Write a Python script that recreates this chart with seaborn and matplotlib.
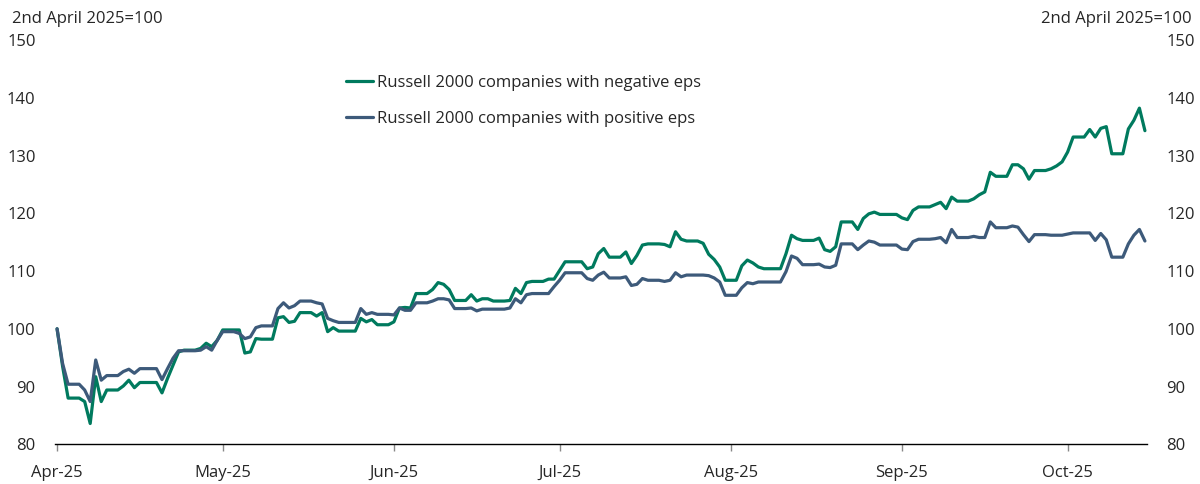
import matplotlib
matplotlib.use("Agg")
import matplotlib.pyplot as plt
import seaborn as sns
import numpy as np
import pandas as pd

# index level, 2nd April 2025 = 100, one value per trading day
start_date = "2025-04-02"
end_date = "2025-10-16"
market_holidays = ["2025-04-18", "2025-05-26", "2025-06-19", "2025-07-04", "2025-09-01"]

neg_label = "Russell 2000 companies with negative eps"
pos_label = "Russell 2000 companies with positive eps"

neg_eps = [
    # Apr
    100, 93.5, 88.0, 87.4, 83.6, 91.7, 87.4, 89.4, 90.1, 91.1, 89.8, 90.7, 88.9, 91.4,
    93.7, 96.0, 96.3, 96.6, 97.5, 96.9,
    # May
    98.0, 99.8, 99.8, 95.8, 96.0, 98.3, 98.2, 101.9, 102.1, 101.1, 101.3, 102.8, 102.2,
    102.8, 99.5, 100.2, 99.6, 101.8, 101.2, 101.6, 100.7,
    # Jun
    101.2, 103.6, 103.7, 103.6, 106.1, 106.8, 108.0, 107.7, 106.8, 104.9, 105.9, 104.8,
    105.2, 104.8, 104.9, 107.0, 106.1, 108.0, 108.2, 108.6,
    # Jul
    108.6, 110.1, 111.6, 110.4, 110.7, 113.0, 113.9, 112.4, 113.3, 111.3, 112.7, 114.5,
    114.7, 114.6, 114.2, 116.8, 115.5, 115.2, 114.8, 112.9, 112.0, 110.7,
    # Aug
    108.4, 110.9, 111.9, 111.4, 110.7, 110.4, 110.4, 113.0, 116.2, 115.6, 115.3, 115.7,
    113.7, 113.4, 114.2, 118.5, 117.2, 119.1, 119.9, 120.2, 119.8,
    # Sep
    119.2, 118.9, 120.5, 121.1, 121.5, 121.9, 120.8, 122.8, 122.1, 122.5, 123.2, 123.7,
    127.1, 126.4, 128.4, 128.4, 127.7, 125.9, 127.4, 127.7, 128.2,
    # Oct
    128.9, 130.6, 133.2, 134.5, 133.2, 134.7, 135.0, 130.3, 134.6, 136.1, 138.2, 134.3,
]

pos_eps = [
    # Apr
    100, 94.0, 90.4, 89.4, 87.4, 94.6, 91.1, 91.9, 92.6, 93.0, 92.3, 93.1, 91.2, 93.1,
    94.9, 96.2, 96.2, 96.3, 96.9, 96.3,
    # May
    98.0, 99.5, 99.2, 98.3, 98.6, 100.2, 100.5, 103.5, 104.5, 103.6, 104.0, 104.8, 104.5,
    104.3, 101.8, 101.4, 101.1, 103.5, 102.5, 102.8, 102.5,
    # Jun
    102.4, 103.6, 103.2, 103.2, 104.5, 104.8, 105.2, 105.2, 105.0, 103.5, 103.6, 103.1,
    103.4, 103.4, 103.6, 105.2, 104.5, 105.9, 106.1, 106.1,
    # Jul
    107.3, 108.4, 109.7, 108.7, 108.4, 109.3, 109.8, 108.8, 109.0, 107.5, 107.7, 108.7,
    108.4, 108.2, 108.4, 109.7, 109.0, 109.3, 109.3, 109.2, 108.8, 108.1,
    # Aug
    105.8, 107.1, 108.0, 107.8, 108.1, 108.1, 108.1, 109.9, 112.6, 112.2, 111.1, 111.2,
    110.7, 110.6, 111.0, 114.7, 113.7, 114.5, 115.2, 115.0, 114.5,
    # Sep
    113.8, 113.7, 115.1, 115.5, 115.6, 115.8, 114.9, 117.2, 115.8, 116.0, 115.8, 115.8,
    118.5, 117.5, 117.8, 117.6, 116.3, 115.1, 116.3, 116.2, 116.2,
    # Oct
    116.2, 116.4, 116.6, 116.6, 115.3, 116.5, 115.4, 112.4, 114.7, 116.2, 117.2, 115.2,
]

y_ticks = [80, 90, 100, 110, 120, 130, 140, 150]
colors = {neg_label: "#007A5E", pos_label: "#3D5A7A"}

# trading days, weekends and holidays carry the previous close
trading_days = pd.bdate_range(start_date, end_date).drop(pd.to_datetime(market_holidays))
daily = pd.date_range(start_date, end_date, freq="D")
wide = pd.DataFrame({neg_label: neg_eps, pos_label: pos_eps}, index=trading_days)
wide = wide.reindex(daily).ffill()
wide.index.name = "date"
df = wide.reset_index().melt(id_vars="date", var_name="series", value_name="index")

sns.set_style("white")
plt.rcParams["font.family"] = ["Open Sans", "DejaVu Sans"]
plt.rcParams["font.size"] = 12

fig = plt.figure(figsize=(12, 4.84), dpi=100)
ax = fig.add_axes([55 / 1200, 1 - 444.3 / 484, 1092 / 1200, 404.3 / 484])

sns.lineplot(data=df, x="date", y="index", hue="series", palette=colors,
             linewidth=2.3, legend=False, ax=ax)

ax.set_ylim(80, 150)
ax.set_yticks(y_ticks)
ax.set_xlim(pd.Timestamp(start_date) - pd.Timedelta(hours=9),
            pd.Timestamp(end_date) + pd.Timedelta(hours=9))
month_ticks = pd.date_range(start_date, periods=7, freq=pd.DateOffset(months=1))
ax.set_xticks(month_ticks)
ax.set_xticklabels([d.strftime("%b-%y") for d in month_ticks])
ax.set_xlabel("")
ax.set_ylabel("")

for side in ["left", "right", "top"]:
    ax.spines[side].set_visible(False)
ax.spines["bottom"].set_color("black")
ax.spines["bottom"].set_linewidth(1.0)

ax.tick_params(axis="x", direction="out", length=5, width=1, color="#888888",
               pad=10, labelsize=12, bottom=True)
ax.tick_params(axis="y", length=0, pad=14, labelsize=12,
               left=False, right=False, labelleft=True, labelright=True)

handles = ax.get_lines()[:2]
ax.legend(handles, [neg_label, pos_label], loc="upper left",
          bbox_to_anchor=(346 / 1200, 1 - 75 / 484), bbox_transform=fig.transFigure,
          frameon=False, fontsize=12, handlelength=1.6, handletextpad=0.25,
          labelspacing=1.18, borderpad=0, borderaxespad=0)

fig.text(12 / 1200, 1 - 19 / 484, "2nd April 2025=100", ha="left", va="center", fontsize=12)
fig.text(1192 / 1200, 1 - 19 / 484, "2nd April 2025=100", ha="right", va="center", fontsize=12)

fig.savefig("out.png", dpi=100)
